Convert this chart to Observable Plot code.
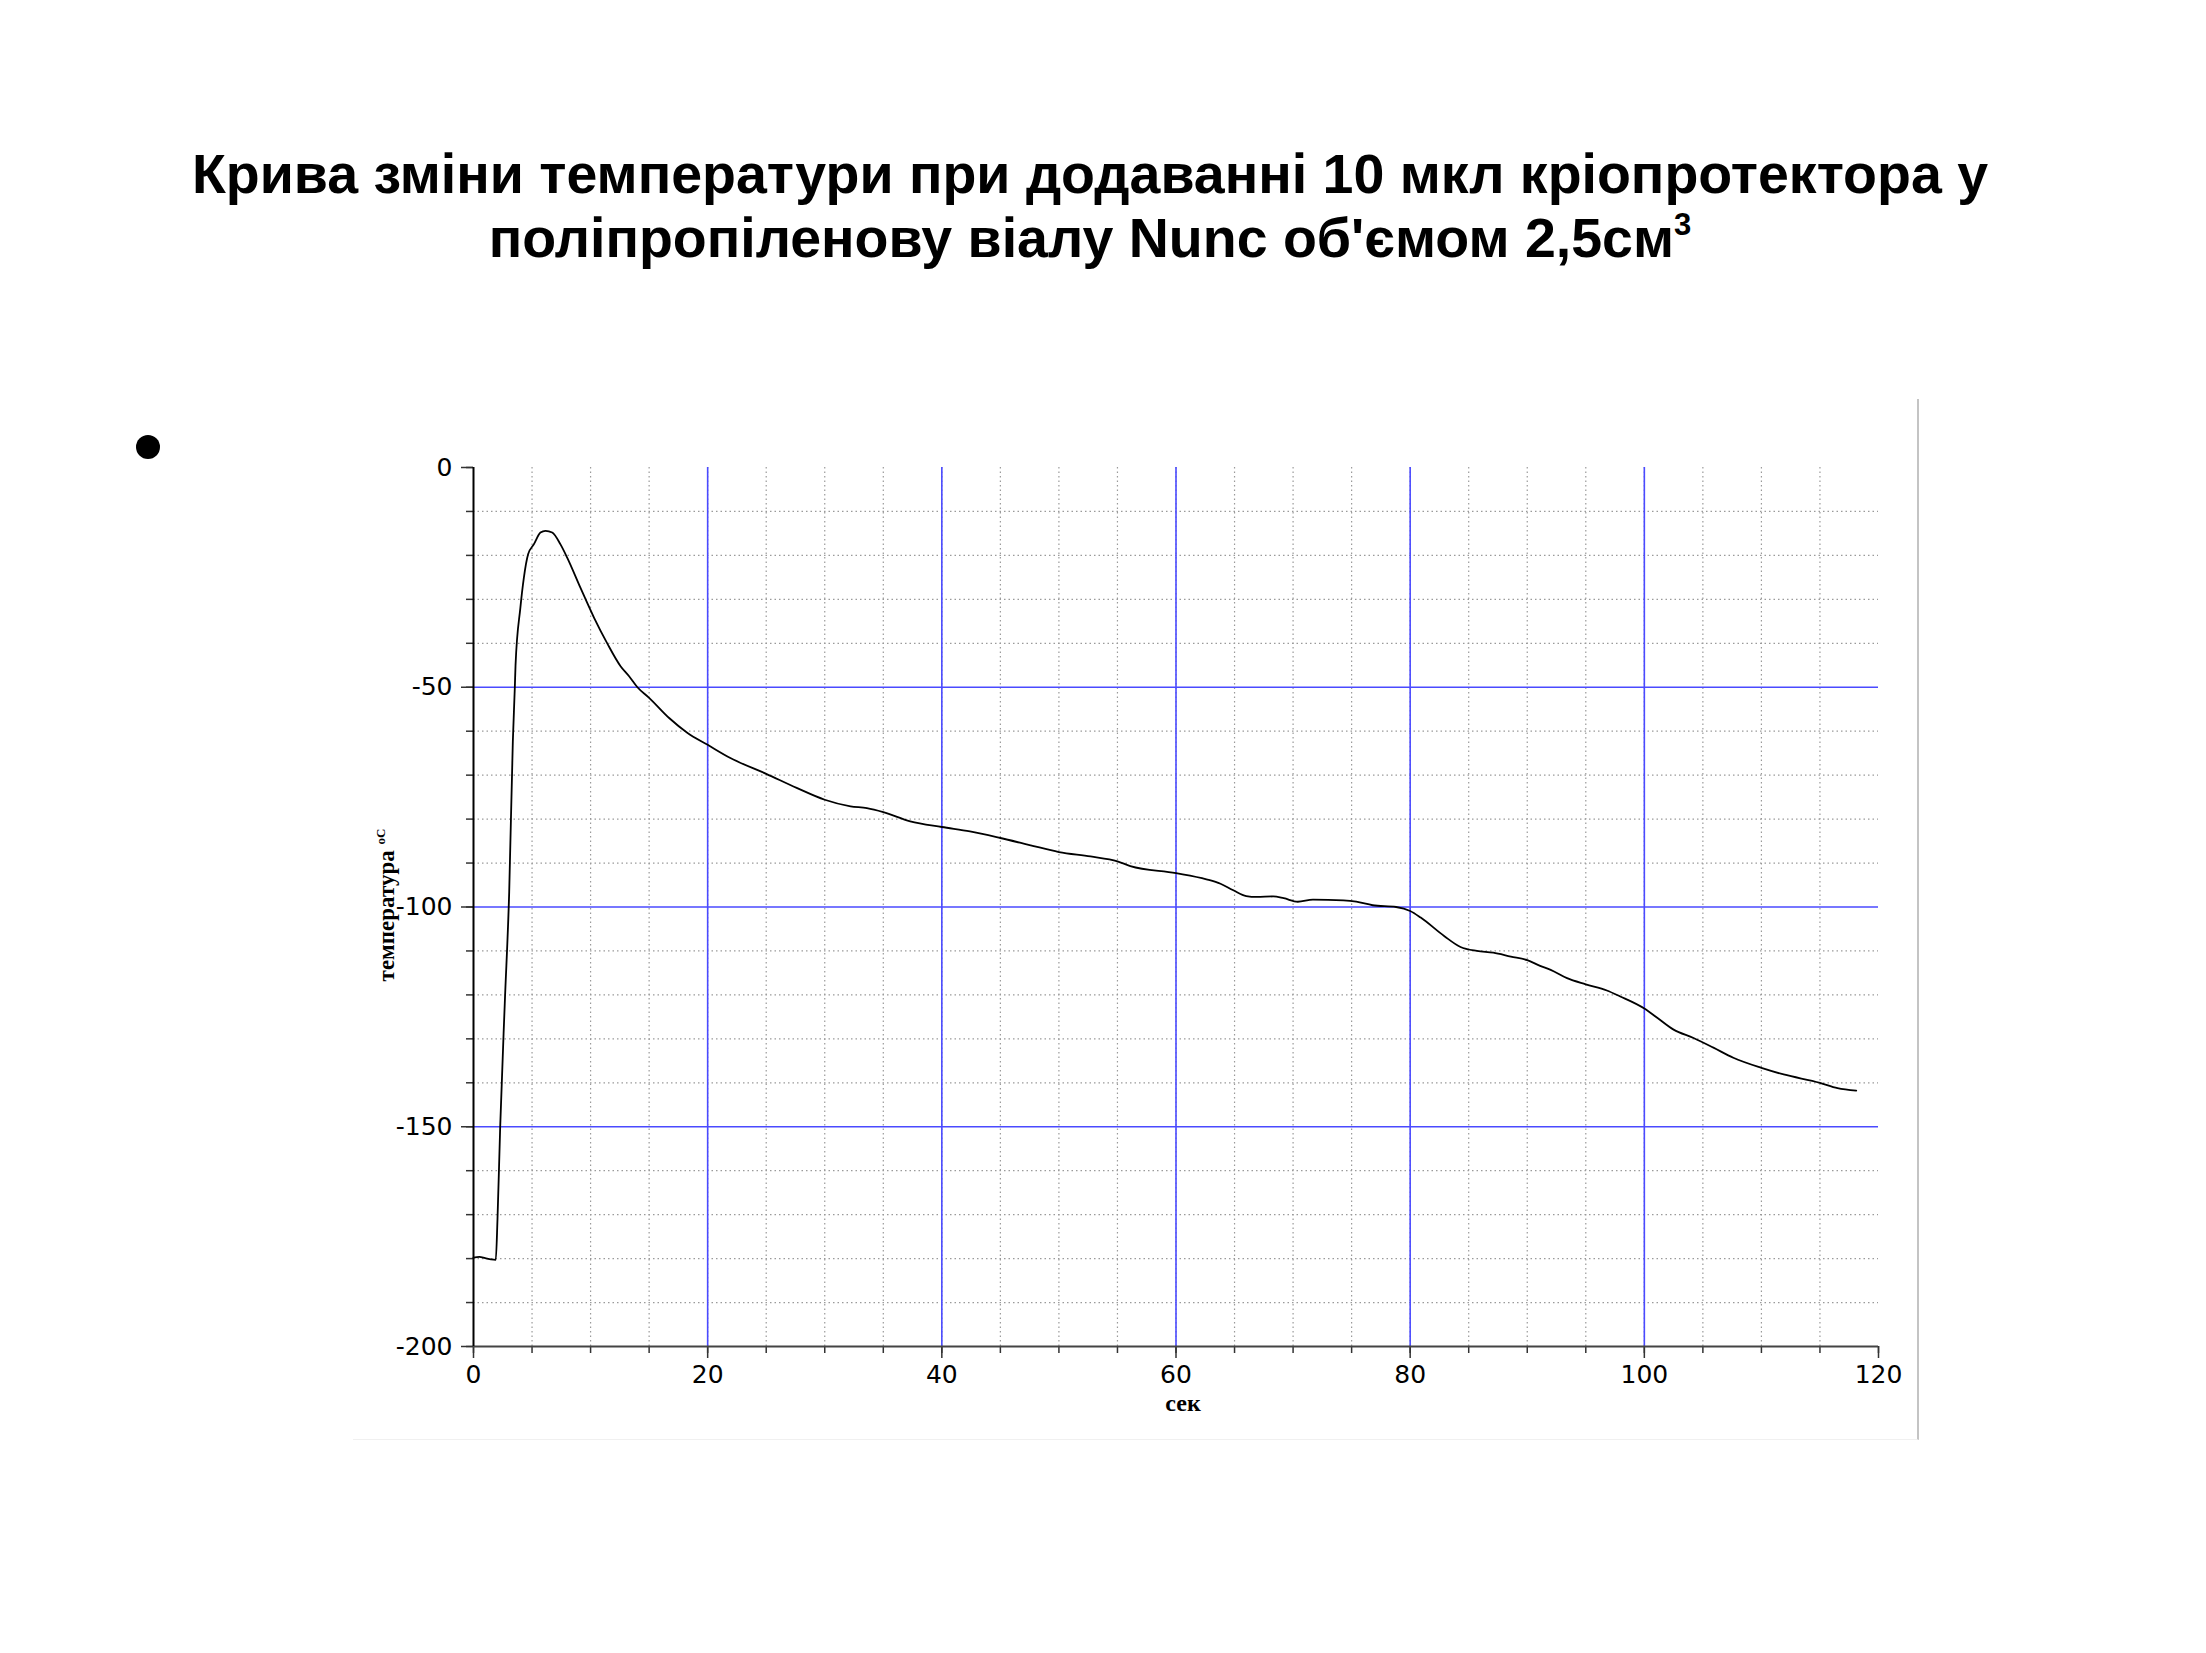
<!DOCTYPE html>
<html>
<head>
<meta charset="utf-8">
<script src="https://cdn.jsdelivr.net/npm/d3@7"></script>
<script src="https://cdn.jsdelivr.net/npm/@observablehq/plot@0.6"></script>
<style>
  html, body { margin: 0; padding: 0; background: #fff; }
  body { width: 2206px; height: 1653px; position: relative; overflow: hidden; }
  #title { position: absolute; left: -13px; top: 142px; width: 2206px; text-align: center;
    font-family: "Liberation Sans", Arial, sans-serif; font-weight: bold; font-size: 55.5px;
    line-height: 64px; color: #000; }
  #title .sup { font-size: 31px; position: relative; top: -22px; }
  #bullet { position: absolute; left: 136px; top: 435px; width: 24px; height: 24px;
    border-radius: 50%; background: #000; }
  #frame { position: absolute; left: 353px; top: 399px; width: 1564px; height: 1040px;
    border-right: 2px solid #c4c4c4; border-bottom: 1px solid #f0f0f0; }
  #chart { position: absolute; left: 340px; top: 390px; }
  #ylab { position: absolute; left: 387px; top: 905px; transform: translate(-50%, -50%) rotate(-90deg);
    white-space: nowrap; font-family: "Liberation Serif", "Times New Roman", serif; font-weight: bold;
    font-size: 23px; color: #000; }
  #ylab .sup { font-size: 13px; position: relative; top: -9px; }
  #xlab { position: absolute; left: 1183px; top: 1389px; transform: translateX(-50%);
    font-family: "Liberation Serif", "Times New Roman", serif; font-weight: bold; font-size: 24px;
    line-height: 28px; color: #000; }
</style>
</head>
<body>
<div id="title">Крива зміни температури при додаванні 10 мкл кріопротектора у<br>поліпропіленову віалу Nunc об'ємом 2,5см<span class="sup">3</span></div>
<div id="bullet"></div>
<div id="frame"></div>
<div id="chart"></div>
<div id="ylab">температура <span class="sup">оС</span></div>
<div id="xlab">сек</div>
<script>
// time, seconds
const timeSec = [0, 0.5, 1.0, 1.5, 1.9, 2.05, 2.28, 2.67, 3.05, 3.36, 3.53, 3.59, 4.0, 4.3, 4.67, 5.15, 5.72, 6.15, 6.72, 7.43, 8.0, 9.14, 10.3, 11.4, 12.56, 13.29, 14.0, 15, 16.71, 18.28, 20, 21.94, 25, 27.6, 30, 32.2, 33.6, 35, 37.3, 40, 42.4, 45, 47.5, 50, 52.7, 55, 56.1, 60, 62.6, 63.8, 64.9, 66.0, 66.9, 68.3, 69.2, 70.4, 71.7, 74.3, 75.4, 76.8, 78.8, 80, 80.9, 82.9, 84.3, 85.7, 87.1, 88.6, 90.0, 91.1, 92.0, 93.4, 95, 96.8, 97.9, 100, 101.1, 102.5, 104.2, 105.9, 107.6, 110, 111.9, 115, 116.5, 118.1];
// temperature, °C
const tempC = [-179.8, -179.6, -179.9, -180.2, -180.3, -171, -150, -122, -96.5, -62.3, -50, -45, -32, -25.1, -19.7, -17.5, -14.8, -14.4, -14.8, -17.5, -20.5, -27.4, -34.2, -39.9, -45.2, -47.5, -50, -52.4, -57.0, -60.4, -63.1, -66.1, -69.7, -72.9, -75.6, -77.1, -77.5, -78.4, -80.5, -81.8, -82.8, -84.3, -85.9, -87.5, -88.5, -89.6, -90.7, -92.3, -93.7, -94.7, -96.2, -97.5, -97.7, -97.6, -98.0, -98.8, -98.3, -98.5, -98.8, -99.6, -100, -100.9, -102.4, -106.6, -109.1, -110.0, -110.4, -111.3, -112.1, -113.4, -114.3, -116.2, -117.6, -119.0, -120.3, -123.1, -125.2, -127.9, -129.8, -132.0, -134.3, -136.6, -138.1, -140, -141.2, -141.8];

const xMajorTicks = [0, 20, 40, 60, 80, 100, 120];
const xMinorTicks = d3.range(0, 121, 5);
const yMajorTicks = [0, -50, -100, -150, -200];
const yMinorTicks = d3.range(0, -201, -10);
const xBlueGrid = [20, 40, 60, 80, 100];
const yBlueGrid = [-50, -100, -150];
const xDotGrid = d3.range(5, 120, 5);
const yDotGrid = d3.range(-10, -200, -10).filter(v => v % 50 !== 0);

const data = timeSec.map((t, i) => ({t, v: tempC[i]}));

const font = "DejaVu Sans, Verdana, sans-serif";
const chart = Plot.plot({
  width: 1600,
  height: 1070,
  marginLeft: 133,
  marginRight: 62,
  marginTop: 77,
  marginBottom: 114,
  style: {background: "transparent", fontFamily: font, fontSize: "24px", color: "#000"},
  x: {domain: [0, 120]},
  y: {domain: [-200, 0]},
  marks: [
    Plot.ruleX(xDotGrid, {stroke: "#9a9a9a", strokeWidth: 1.2, strokeDasharray: "1.5,3"}),
    Plot.ruleY(yDotGrid, {x1: 0, x2: 120, stroke: "#9a9a9a", strokeWidth: 1.2, strokeDasharray: "1.5,3"}),
    Plot.ruleX(xBlueGrid, {y1: -200, y2: 0, stroke: "#4a4aff", strokeWidth: 1.6}),
    Plot.ruleY(yBlueGrid, {x1: 0, x2: 120, stroke: "#4a4aff", strokeWidth: 1.6}),
    Plot.axisX(xMinorTicks, {tickSize: 7, tickFormat: () => "", stroke: "#333", strokeWidth: 1.5, label: null}),
    Plot.axisX(xMajorTicks, {tickSize: 12, tickPadding: 7, fontSize: 25, fontFamily: font, stroke: "#333", strokeWidth: 1.5, label: null}),
    Plot.axisY(yMinorTicks, {tickSize: 7, tickFormat: () => "", stroke: "#333", strokeWidth: 1.5, label: null}),
    Plot.axisY(yMajorTicks, {tickSize: 12, tickPadding: 9, fontSize: 25, fontFamily: font, stroke: "#333", strokeWidth: 1.5, label: null, tickFormat: d => String(d)}),
    Plot.ruleY([-200], {x1: 0, x2: 120, stroke: "#444", strokeWidth: 2.2}),
    Plot.ruleX([0], {y1: -200, y2: 0, stroke: "#000", strokeWidth: 2}),
    Plot.line(data, {x: "t", y: "v", stroke: "#000", strokeWidth: 1.8, curve: "monotone-x"})
  ]
});
document.getElementById("chart").appendChild(chart);
</script>
</body>
</html>
